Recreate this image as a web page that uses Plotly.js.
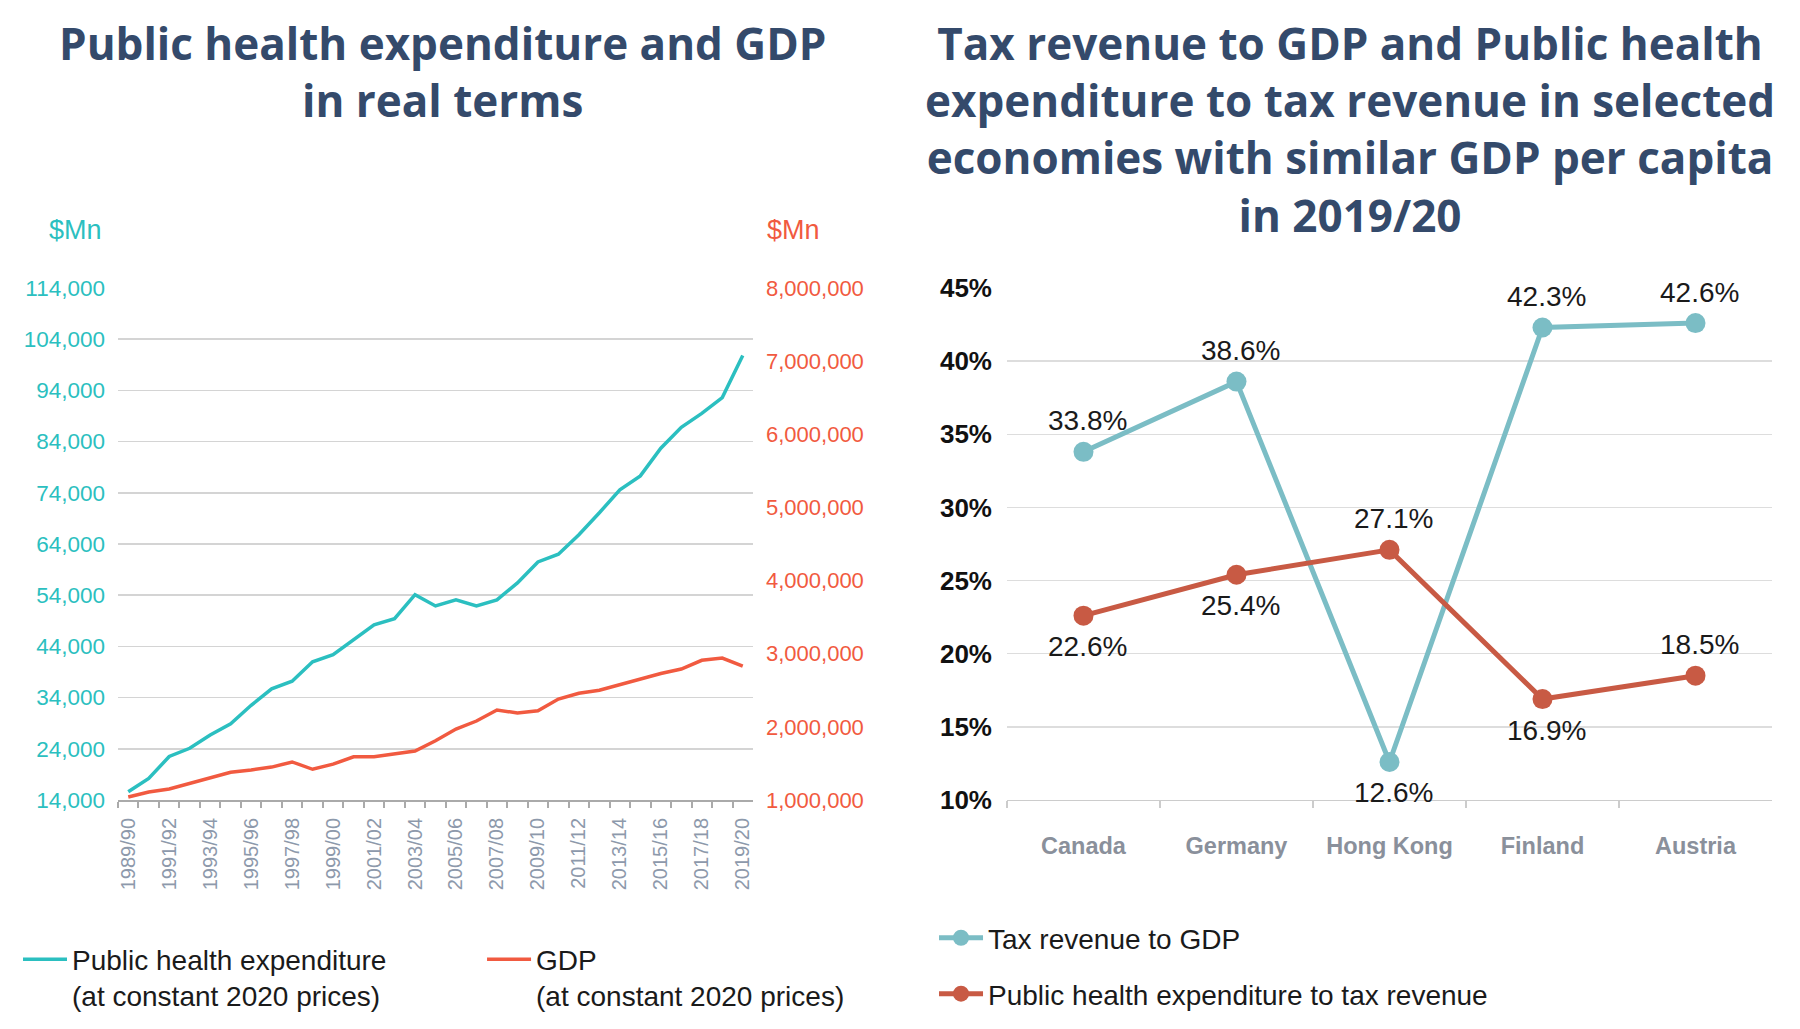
<!DOCTYPE html>
<html><head><meta charset="utf-8">
<script src="https://cdn.plot.ly/plotly-3.0.1.min.js"></script>
<style>html,body{margin:0;padding:0;background:#fff;} #chart{width:1800px;height:1029px;}</style>
</head><body><div id="chart"></div>
<script>
// ---- Data: left chart ----
const years = ['1989/90','1990/91','1991/92','1992/93','1993/94','1994/95','1995/96','1996/97','1997/98','1998/99',
  '1999/00','2000/01','2001/02','2002/03','2003/04','2004/05','2005/06','2006/07','2007/08','2008/09',
  '2009/10','2010/11','2011/12','2012/13','2013/14','2014/15','2015/16','2016/17','2017/18','2018/19','2019/20'];
const healthExp = [15600, 18200, 22500, 24100, 26700, 28900, 32500, 35700, 37200, 41000,
  42400, 45300, 48200, 49400, 54100, 51900, 53100, 51900, 53100, 56400,
  60500, 62000, 65800, 70100, 74600, 77300, 82700, 86800, 89500, 92600, 100800];
const gdp = [1040000, 1110000, 1150000, 1230000, 1310000, 1380000, 1410000, 1450000, 1520000, 1420000,
  1490000, 1590000, 1590000, 1630000, 1670000, 1810000, 1970000, 2080000, 2230000, 2190000,
  2220000, 2380000, 2460000, 2500000, 2580000, 2650000, 2730000, 2790000, 2910000, 2940000, 2830000];

// ---- Data: right chart ----
const countries = ['Canada', 'Germany', 'Hong Kong', 'Finland', 'Austria'];
const taxToGDP = [33.8, 38.6, 12.6, 42.3, 42.6];
const pheToTax = [22.6, 25.4, 27.1, 16.9, 18.5];

// label placement (style): 1 = above, -1 = below
const taxLabelSide = [1, 1, -1, 1, 1];
const pheLabelSide = [-1, -1, 1, -1, 1];

const SANS = '"Liberation Sans", Arial, sans-serif';
const TITLE = '"Open Sans", sans-serif';
const TEAL = '#2bbfc0', RED = '#f15a40', TEAL2 = '#7bbdc5', RED2 = '#c85a44';

const traces = [
  {x: years, y: healthExp, xaxis: 'x', yaxis: 'y', type: 'scatter', mode: 'lines',
   line: {color: TEAL, width: 3.5}, name: 'Public health expenditure<br>(at constant 2020 prices)', legend: 'legend'},
  {x: years, y: gdp, xaxis: 'x', yaxis: 'y2', type: 'scatter', mode: 'lines',
   line: {color: RED, width: 3.5}, name: 'GDP<br>(at constant 2020 prices)', legend: 'legend2'},
  {x: countries, y: taxToGDP, xaxis: 'x2', yaxis: 'y3', type: 'scatter', mode: 'lines+markers',
   line: {color: TEAL2, width: 5}, marker: {color: TEAL2, size: 20}, name: 'Tax revenue to GDP', legend: 'legend3'},
  {x: countries, y: pheToTax, xaxis: 'x2', yaxis: 'y3', type: 'scatter', mode: 'lines+markers',
   line: {color: RED2, width: 5}, marker: {color: RED2, size: 20}, name: 'Public health expenditure to tax revenue', legend: 'legend4'}
];

const labelAnns = [];
countries.forEach((c, i) => {
  labelAnns.push({xref: 'x2', yref: 'y3', x: c, y: taxToGDP[i], yshift: taxLabelSide[i] * 31, xshift: 4,
    text: taxToGDP[i].toFixed(1) + '%', showarrow: false, font: {family: SANS, size: 28, color: '#1a1a1a'}});
  labelAnns.push({xref: 'x2', yref: 'y3', x: c, y: pheToTax[i], yshift: pheLabelSide[i] * 31, xshift: 4,
    text: pheToTax[i].toFixed(1) + '%', showarrow: false, font: {family: SANS, size: 28, color: '#1a1a1a'}});
});

const legendFont = {family: SANS, size: 28, color: '#1a1a1a'};
const yDom = [0.22255, 0.72012];

const layout = {
  width: 1800, height: 1029,
  margin: {l: 0, r: 0, t: 0, b: 0, autoexpand: false},
  paper_bgcolor: '#ffffff', plot_bgcolor: '#ffffff',
  showlegend: true,
  xaxis: {domain: [0.06556, 0.41833], anchor: 'y', type: 'category', range: [-0.5, years.length - 0.5],
    tickmode: 'array', tickvals: years, ticktext: years.map((y, i) => i % 2 === 0 ? y : ''),
    tickson: 'boundaries', ticks: 'outside', ticklen: 6, tickwidth: 2, tickcolor: '#aaaaaa',
    showline: true, linecolor: '#aaaaaa', linewidth: 2, showgrid: false, zeroline: false,
    ticklabelstandoff: 8,
    tickangle: -90, tickfont: {family: SANS, size: 20, color: '#8d99ab'}, fixedrange: true},
  yaxis: {domain: yDom, anchor: 'x', range: [14000, 114000], tick0: 14000, dtick: 10000,
    tickformat: ',', gridcolor: '#d4d4d4', gridwidth: 1.5, zeroline: false, showline: false,
    ticks: '', ticklabelstandoff: 12, tickfont: {family: SANS, size: 22.5, color: TEAL}, fixedrange: true},
  yaxis2: {overlaying: 'y', side: 'right', anchor: 'x', range: [1000000, 8000000], tick0: 1000000, dtick: 1000000,
    tickformat: ',', showgrid: false, zeroline: false, showline: false, ticks: '', ticklabelstandoff: 12,
    tickfont: {family: SANS, size: 22, color: RED}, fixedrange: true},
  xaxis2: {domain: [0.55944, 0.98444], anchor: 'y3', type: 'category', range: [-0.5, countries.length - 0.5],
    tickson: 'boundaries', ticks: 'outside', ticklen: 7, tickwidth: 1.5, tickcolor: '#cccccc',
    showline: true, linecolor: '#cccccc', linewidth: 1.5, showgrid: false, zeroline: false,
    ticklabelstandoff: 24, tickfont: {family: SANS, size: 23.5, color: '#8a909b', weight: 'bold'}, fixedrange: true},
  yaxis3: {domain: yDom, anchor: 'x2', range: [10, 45], tick0: 10, dtick: 5, ticksuffix: '%',
    gridcolor: '#dddddd', gridwidth: 1.5, zeroline: false, showline: false, ticks: '', ticklabelstandoff: 14,
    tickfont: {family: SANS, size: 26, color: '#111111', weight: 'bold'}, fixedrange: true},
  legend: {x: 0.01, y: 0.0919, xanchor: 'left', yanchor: 'top', font: legendFont, valign: 'top',
    itemwidth: 44, bgcolor: 'rgba(0,0,0,0)'},
  legend2: {x: 0.2678, y: 0.0919, xanchor: 'left', yanchor: 'top', font: legendFont, valign: 'top',
    itemwidth: 44, bgcolor: 'rgba(0,0,0,0)'},
  legend3: {x: 0.5189, y: 0.0884, xanchor: 'left', yanchor: 'middle', font: legendFont, valign: 'middle',
    itemwidth: 44, bgcolor: 'rgba(0,0,0,0)'},
  legend4: {x: 0.5189, y: 0.034, xanchor: 'left', yanchor: 'middle', font: legendFont, valign: 'middle',
    itemwidth: 44, bgcolor: 'rgba(0,0,0,0)'},
  annotations: [
    {xref: 'paper', yref: 'paper', x: 0.2456, y: 0.931, xanchor: 'center', yanchor: 'middle', showarrow: false,
     text: 'Public health expenditure and GDP<br>in real terms', align: 'center',
     font: {family: TITLE, size: 44, color: '#344a6b', weight: 700}},
    {xref: 'paper', yref: 'paper', x: 0.75, y: 0.8751, xanchor: 'center', yanchor: 'middle', showarrow: false,
     text: 'Tax revenue to GDP and Public health<br>expenditure to tax revenue in selected<br>economies with similar GDP per capita<br>in 2019/20',
     align: 'center', font: {family: TITLE, size: 44, color: '#344a6b', weight: 700}},
    {xref: 'paper', yref: 'paper', x: 0.04167, y: 0.7765, xanchor: 'center', yanchor: 'middle', showarrow: false,
     text: '$Mn', font: {family: SANS, size: 27, color: TEAL}},
    {xref: 'paper', yref: 'paper', x: 0.4411, y: 0.7765, xanchor: 'center', yanchor: 'middle', showarrow: false,
     text: '$Mn', font: {family: SANS, size: 27, color: RED}}
  ].concat(labelAnns)
};

Plotly.newPlot('chart', traces, layout, {displayModeBar: false, staticPlot: true});
</script></body></html>
